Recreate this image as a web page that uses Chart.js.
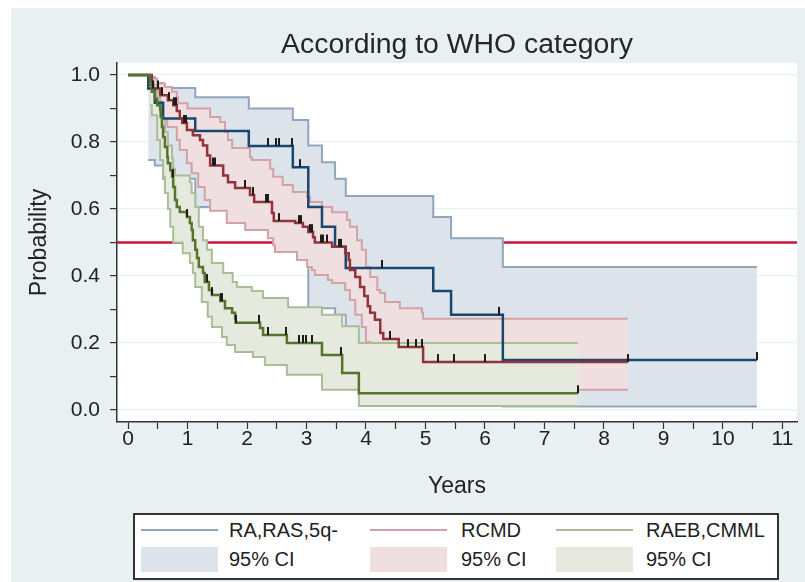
<!DOCTYPE html>
<html>
<head>
<meta charset="utf-8">
<script src="https://cdn.jsdelivr.net/npm/chart.js@4.4.1/dist/chart.umd.min.js"></script>
<style>
  html, body { margin: 0; padding: 0; background: #fff; }
  #wrap { position: relative; width: 805px; height: 582px; }
  #legend {
    position: absolute; left: 133px; top: 513px; width: 646px; height: 67px;
    box-sizing: border-box; border: 2px solid #333; background: #fff;
    font: 20px 'Liberation Sans', Arial, sans-serif; color: #222;
  }
  #legend .sw { position: absolute; }
  #legend .lbl { position: absolute; line-height: 24px; white-space: nowrap; }
</style>
</head>
<body>
<div id="wrap">
  <canvas id="km" width="805" height="582"></canvas>
  <div id="legend"></div>
</div>
<script>
// Kaplan-Meier curves by WHO category: [years, survival probability]
const groups = ['RA,RAS,5q-', 'RCMD', 'RAEB,CMML'];

const raKM = [[0, 1], [0.34, 0.96], [0.45, 0.917], [0.59, 0.87], [1.13, 0.833], [2.03, 0.788], [2.77, 0.725],
  [3.03, 0.606], [3.26, 0.547], [3.48, 0.487], [3.66, 0.424], [5.13, 0.355], [5.43, 0.284], [6.30, 0.149], [10.57, 0.149]];
const raUpper = [[0.34, 0.994], [0.45, 0.976], [0.59, 0.961], [1.13, 0.934], [2.03, 0.90], [2.77, 0.866], [3.03, 0.79],
  [3.26, 0.74], [3.48, 0.69], [3.66, 0.639], [5.13, 0.576], [5.43, 0.513], [6.30, 0.427], [10.57, 0.427]];
const raLower = [[0.34, 0.746], [0.45, 0.73], [0.59, 0.69], [1.13, 0.606], [2.03, 0.55], [2.77, 0.48], [3.03, 0.304],
  [3.48, 0.284], [3.66, 0.2], [5.13, 0.12], [5.43, 0.06], [6.30, 0.01], [10.57, 0.01]];
const raCensor = [2.35, 2.49, 2.54, 2.76, 2.89, 4.27, 6.24, 10.57];

const rcmdKM = [[0, 1], [0.40, 0.98], [0.42, 0.96], [0.54, 0.94], [0.67, 0.925], [0.76, 0.91], [0.82, 0.893], [0.87, 0.87],
  [0.91, 0.857], [0.99, 0.836], [1.09, 0.82], [1.21, 0.806], [1.26, 0.79], [1.33, 0.76], [1.38, 0.73], [1.60, 0.70],
  [1.68, 0.68], [1.80, 0.663], [2.05, 0.642], [2.12, 0.621], [2.42, 0.588], [2.45, 0.564], [2.81, 0.558], [2.94, 0.547],
  [3.03, 0.531], [3.11, 0.516], [3.14, 0.50], [3.43, 0.487], [3.65, 0.468], [3.71, 0.448], [3.73, 0.418], [3.82, 0.397],
  [3.90, 0.367], [3.97, 0.34], [4.03, 0.31], [4.07, 0.29], [4.15, 0.269], [4.24, 0.23], [4.29, 0.212], [4.55, 0.188],
  [4.96, 0.143], [8.40, 0.143]];
const rcmdUpper = [[0.40, 0.99], [0.49, 0.975], [0.62, 0.964], [0.74, 0.95], [0.82, 0.934], [0.84, 0.916], [1.0, 0.90],
  [1.38, 0.875], [1.55, 0.86], [1.63, 0.83], [1.68, 0.806], [1.75, 0.782], [2.05, 0.755], [2.08, 0.746], [2.39, 0.72],
  [2.44, 0.696], [2.60, 0.672], [2.77, 0.651], [3.01, 0.636], [3.06, 0.621], [3.26, 0.606], [3.43, 0.59], [3.68, 0.567],
  [3.73, 0.547], [3.85, 0.507], [3.93, 0.478], [4.0, 0.427], [4.07, 0.397], [4.19, 0.358], [4.24, 0.349], [4.32, 0.322],
  [4.57, 0.304], [4.94, 0.29], [4.96, 0.272], [8.40, 0.272]];
const rcmdLower = [[0.40, 0.95], [0.54, 0.896], [0.59, 0.866], [0.66, 0.845], [0.82, 0.806], [0.87, 0.776], [0.99, 0.737],
  [1.07, 0.707], [1.18, 0.666], [1.29, 0.627], [1.38, 0.595], [1.66, 0.558], [1.97, 0.537], [2.35, 0.513], [2.44, 0.492],
  [2.47, 0.472], [2.84, 0.448], [3.01, 0.427], [3.09, 0.418], [3.14, 0.403], [3.36, 0.388], [3.43, 0.379], [3.65, 0.358],
  [3.73, 0.328], [3.82, 0.284], [3.93, 0.248], [4.0, 0.203], [4.07, 0.17], [4.15, 0.15], [4.24, 0.12], [4.29, 0.105],
  [4.55, 0.085], [4.96, 0.06], [8.40, 0.06]];
const rcmdCensor = [0.42, 0.50, 0.57, 0.69, 0.78, 0.81, 0.94, 0.97, 1.43, 1.46, 1.97, 2.10, 2.32, 2.35, 2.54, 2.87, 2.91,
  3.06, 3.09, 3.24, 3.28, 3.34, 3.55, 3.58, 4.40, 4.71, 4.84, 4.94, 5.21, 5.48, 6.0, 8.40];

const raebKM = [[0, 1], [0.37, 0.97], [0.40, 0.95], [0.45, 0.93], [0.49, 0.91], [0.54, 0.896], [0.55, 0.875], [0.57, 0.845],
  [0.59, 0.815], [0.62, 0.785], [0.66, 0.755], [0.67, 0.737], [0.71, 0.716], [0.74, 0.696], [0.76, 0.666], [0.79, 0.627],
  [0.82, 0.606], [0.87, 0.591], [0.99, 0.576], [1.04, 0.558], [1.07, 0.537], [1.09, 0.507], [1.13, 0.478], [1.16, 0.454],
  [1.19, 0.427], [1.26, 0.409], [1.29, 0.382], [1.36, 0.358], [1.41, 0.343], [1.55, 0.325], [1.63, 0.304], [1.75, 0.29],
  [1.80, 0.272], [1.81, 0.26], [2.22, 0.245], [2.27, 0.224], [2.67, 0.20], [3.26, 0.164], [3.60, 0.11], [3.88, 0.05],
  [7.56, 0.05]];
const raebUpper = [[0.37, 0.995], [0.40, 0.97], [0.49, 0.92], [0.57, 0.87], [0.62, 0.83], [0.67, 0.79], [0.74, 0.75],
  [0.76, 0.72], [0.79, 0.70], [1.04, 0.68], [1.07, 0.648], [1.13, 0.606], [1.19, 0.547], [1.26, 0.507], [1.33, 0.478],
  [1.41, 0.439], [1.60, 0.409], [1.76, 0.382], [1.83, 0.367], [2.08, 0.355], [2.27, 0.334], [2.69, 0.307], [3.26, 0.284],
  [3.60, 0.25], [3.88, 0.20], [7.56, 0.20]];
const raebLower = [[0.37, 0.91], [0.40, 0.88], [0.49, 0.806], [0.54, 0.746], [0.59, 0.696], [0.62, 0.648], [0.67, 0.60],
  [0.71, 0.547], [0.76, 0.50], [0.92, 0.468], [1.04, 0.439], [1.09, 0.409], [1.13, 0.367], [1.24, 0.322], [1.34, 0.278],
  [1.41, 0.248], [1.58, 0.218], [1.66, 0.194], [1.80, 0.173], [2.10, 0.158], [2.30, 0.134], [2.67, 0.105], [3.26, 0.06],
  [3.88, 0.012], [7.56, 0.012]];
const raebCensor = [0.75, 0.99, 1.33, 1.41, 1.56, 1.58, 1.82, 2.20, 2.35, 2.66, 2.88, 2.94, 2.99, 3.09, 3.58, 7.56];

const medianLevel = 0.5;
const xTicks = [0, 0.5, 1, 1.5, 2, 2.5, 3, 3.5, 4, 4.5, 5, 5.5, 6, 6.5, 7, 7.5, 8, 8.5, 9, 9.5, 10, 10.5, 11];
const yTicks = [0, 0.1, 0.2, 0.3, 0.4, 0.5, 0.6, 0.7, 0.8, 0.9, 1.0];

const lineCols = ['#1a476f', '#90353b', '#55752f'];
const ciLineCols = ['#91a6bc', '#d3a2a7', '#aabd98'];
const ciFillCols = ['#dde3ea', '#efdfe1', '#e5e9de'];
const FONT = "'Liberation Sans', Arial, sans-serif";

const pts = arr => arr.map(([x, y]) => ({ x, y }));

function survAt(km, t) {
  let s = km[0][1];
  for (const [tt, v] of km) if (tt <= t + 1e-9) s = v;
  return s;
}

// censor tick: short vertical mark sitting on top of the curve
function censorMark() {
  const c = document.createElement('canvas');
  c.width = 2; c.height = 18;
  const g = c.getContext('2d');
  g.fillStyle = '#1c1c1c';
  g.fillRect(0, 1, 2, 8);
  return c;
}
const mark = censorMark();

function ciSets(i, up, lo, order) {
  return [
    { data: pts(up), borderColor: ciLineCols[i], backgroundColor: ciFillCols[i], fill: '+1', borderWidth: 2, order },
    { data: pts(lo), borderColor: ciLineCols[i], fill: false, borderWidth: 2, order: order - 1 }
  ];
}

const kms = [raKM, rcmdKM, raebKM];
const censors = [raCensor, rcmdCensor, raebCensor];

const datasets = [
  ...ciSets(0, raUpper, raLower, 20),
  ...ciSets(1, rcmdUpper, rcmdLower, 18),
  ...ciSets(2, raebUpper, raebLower, 16),
  ...kms.map((km, i) => ({ label: groups[i], data: pts(km), borderColor: lineCols[i], borderWidth: 2.5, fill: false, order: 14 - i })),
  ...censors.map((cs, i) => ({
    type: 'scatter', data: cs.map(t => ({ x: t, y: survAt(kms[i], t) })),
    pointStyle: mark, pointRadius: 3, showLine: false, order: 10 - i
  }))
];

const backdrop = {
  id: 'backdrop',
  beforeDraw(chart) {
    const { ctx, chartArea: a } = chart;
    ctx.save();
    ctx.fillStyle = '#fff';
    ctx.fillRect(0, 0, chart.width, chart.height);
    ctx.fillStyle = '#e8f0f2';
    ctx.fillRect(11, 8, chart.width - 11, chart.height - 8);
    ctx.fillStyle = '#fff';
    ctx.fillRect(a.left, a.top, a.right - a.left, a.bottom - a.top);
    ctx.restore();
  },
  beforeDatasetsDraw(chart) {
    const { ctx, chartArea: a, scales: { y } } = chart;
    const py = y.getPixelForValue(medianLevel);
    ctx.save();
    ctx.strokeStyle = '#c8143c';
    ctx.lineWidth = 2.5;
    ctx.beginPath();
    ctx.moveTo(a.left, py);
    ctx.lineTo(a.right, py);
    ctx.stroke();
    ctx.restore();
  }
};

new Chart(document.getElementById('km'), {
  type: 'line',
  data: { datasets },
  plugins: [backdrop],
  options: {
    responsive: false,
    animation: false,
    events: [],
    layout: { padding: { left: 0, right: 8, top: 0, bottom: 72 } },
    elements: {
      line: { stepped: true, tension: 0, borderCapStyle: 'butt', borderJoinStyle: 'miter' },
      point: { radius: 0 }
    },
    plugins: {
      legend: { display: false },
      tooltip: { enabled: false },
      title: {
        display: true, text: 'According to WHO category', fullSize: false,
        color: '#262626', font: { family: FONT, size: 28.4, weight: 'normal' },
        padding: { top: 27.96, bottom: 0.96 }
      }
    },
    scales: {
      x: {
        type: 'linear', min: -0.185, max: 11.244,
        afterBuildTicks: s => { s.ticks = xTicks.map(v => ({ value: v })); },
        afterFit: s => { s.height = 88; },
        grid: { drawOnChartArea: false, drawTicks: true, tickLength: 7, tickColor: '#333', tickWidth: 1.2 },
        border: { display: true, color: '#333', width: 1.5 },
        ticks: {
          autoSkip: false, maxRotation: 0, padding: -2, color: '#222',
          font: { family: FONT, size: 21 },
          callback: v => Number.isInteger(v) ? String(v) : ''
        },
        title: { display: true, text: 'Years', color: '#222', font: { family: FONT, size: 23 }, padding: { top: 0, bottom: 9.2 } }
      },
      y: {
        type: 'linear', min: -0.036, max: 1.036,
        afterBuildTicks: s => { s.ticks = yTicks.map(v => ({ value: v })); },
        afterFit: s => { s.width = 117; },
        grid: {
          drawTicks: true, tickLength: 7, tickColor: '#333', tickWidth: 1.2, lineWidth: 1.2,
          color: c => (Math.round(c.tick.value * 10) % 2 === 0 ? '#e9f1f3' : 'rgba(0,0,0,0)')
        },
        border: { display: true, color: '#333', width: 1.5 },
        ticks: {
          padding: 10, color: '#222', font: { family: FONT, size: 21 },
          callback: v => (Math.round(v * 10) % 2 === 0 ? v.toFixed(1) : '')
        },
        title: { display: true, text: 'Probability', color: '#222', font: { family: FONT, size: 23 }, padding: { top: 26.2, bottom: 0 } }
      }
    }
  }
});

// legend: one row of curve lines, one row of CI swatches
const legend = document.getElementById('legend');
const swX = [6, 235, 421];
const txtX = [94, 326, 511];
groups.forEach((g, i) => {
  legend.insertAdjacentHTML('beforeend',
    `<div class="sw" style="left:${swX[i]}px;top:14px;width:77px;height:0;border-top:2px solid ${ciLineCols[i]}"></div>` +
    `<div class="lbl" style="left:${txtX[i]}px;top:3px">${g}</div>` +
    `<div class="sw" style="left:${swX[i]}px;top:32px;width:77px;height:25px;background:${ciFillCols[i]}"></div>` +
    `<div class="lbl" style="left:${txtX[i]}px;top:32px">95% CI</div>`);
});
</script>
</body>
</html>
